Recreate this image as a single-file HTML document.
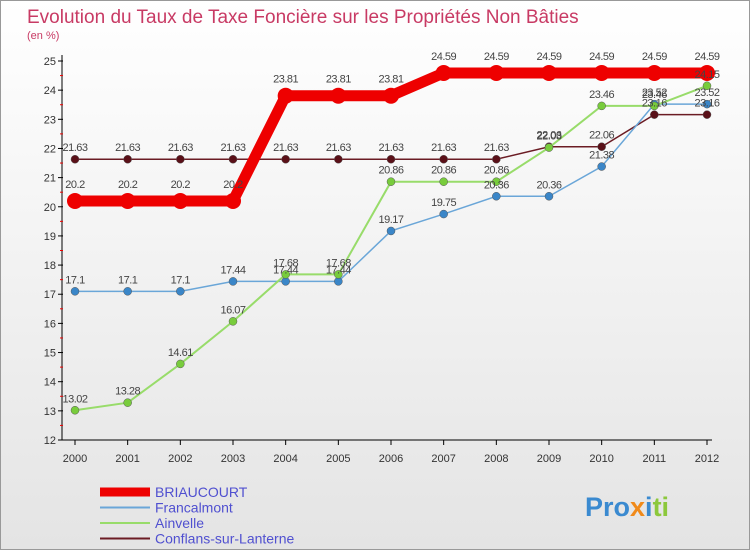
<!DOCTYPE html>
<html><head><meta charset="utf-8"><style>
body{margin:0;width:750px;height:550px;overflow:hidden;font-family:"Liberation Sans",sans-serif}
</style></head><body>
<svg width="750" height="550" xmlns="http://www.w3.org/2000/svg">
<defs><linearGradient id="bg" x1="0" y1="0" x2="0" y2="1"><stop offset="0" stop-color="#ffffff"/><stop offset="1" stop-color="#e4e4e4"/></linearGradient></defs>
<rect x="0.5" y="0.5" width="749" height="549" fill="url(#bg)" stroke="#999"/>
<text x="27" y="23" font-size="19" fill="#c83a64" font-weight="300">Evolution du Taux de Taxe Foncière sur les Propriétés Non Bâties</text>
<text x="27" y="39" font-size="11" fill="#c83a64">(en %)</text>
<g id="axes"></g><g id="series"></g><g id="labels"></g>
<g id="legend"></g>
<text x="585" y="516" font-size="27" font-weight="bold"><tspan fill="#3a8ad0">Pro</tspan><tspan fill="#f08a1a">x</tspan><tspan fill="#3a8ad0">i</tspan><tspan fill="#8cc83c">ti</tspan></text>
</svg>
<script>
const years=[2000,2001,2002,2003,2004,2005,2006,2007,2008,2009,2010,2011,2012];
const yTicks=[12,13,14,15,16,17,18,19,20,21,22,23,24,25];
const briaucourt=[20.2,20.2,20.2,20.2,23.81,23.81,23.81,24.59,24.59,24.59,24.59,24.59,24.59];
const francalmont=[17.1,17.1,17.1,17.44,17.44,17.44,19.17,19.75,20.36,20.36,21.38,23.52,23.52];
const ainvelle=[13.02,13.28,14.61,16.07,17.68,17.68,20.86,20.86,20.86,22.03,23.46,23.46,24.15];
const conflans=[21.63,21.63,21.63,21.63,21.63,21.63,21.63,21.63,21.63,22.06,22.06,23.16,23.16];
const names=["BRIAUCOURT","Francalmont","Ainvelle","Conflans-sur-Lanterne"];
const NS="http://www.w3.org/2000/svg";
const X=i=>75+i*(707-75)/(years.length-1);
const Y=v=>440-(v-12)*(440-61)/13;
function mk(t,a,p){const e=document.createElementNS(NS,t);for(const k in a)e.setAttribute(k,a[k]);p.appendChild(e);return e;}
const ax=document.getElementById('axes');
let l=mk('line',{x1:62,y1:55,x2:62,y2:440,stroke:'#000'},ax);


l=mk('line',{x1:62,y1:440,x2:712,y2:440,stroke:'#000'},ax);


yTicks.forEach(v=>{mk('line',{x1:58,y1:Y(v),x2:63,y2:Y(v),stroke:'#000'},ax);
 if(v<25)mk('line',{x1:60,y1:Y(v+0.5),x2:63,y2:Y(v+0.5),stroke:'#e00'},ax);
 const t=mk('text',{x:56,y:Y(v)+4,'font-size':11,fill:'#333','text-anchor':'end'},ax);t.textContent=v;
 
 });
years.forEach((yr,i)=>{mk('line',{x1:X(i),y1:440,x2:X(i),y2:445,stroke:'#000'},ax);
 const t=mk('text',{x:X(i),y:462,'font-size':11,fill:'#333','text-anchor':'middle'},ax);t.textContent=yr;
 
 });
const sg=document.getElementById('series'),lg=document.getElementById('labels');
const defs=[[conflans,'#6b1c24',1.5,4],[francalmont,'#6aa6d8',1.5,4],[ainvelle,'#98dc6a',2,4],[briaucourt,'#ee0000',11,8]];
const dotCol={'#6b1c24':'#5a1018','#6aa6d8':'#3a86c8','#98dc6a':'#78cc3c','#ee0000':'#ee0000'};
const sn=['conflans','francalmont','ainvelle','briaucourt'];
defs.forEach(([d,c,w,r],k)=>{
 const p=mk('polyline',{points:d.map((v,i)=>X(i)+','+Y(v)).join(' '),fill:'none',stroke:c,'stroke-width':w},sg);
 
 
 d.forEach((v,i)=>{const ci=mk('circle',{cx:X(i),cy:Y(v),r:r,fill:dotCol[c],stroke:r<5?'#555':'none','stroke-width':0.5},sg);
  
  
  const t=mk('text',{x:X(i),y:Y(v)-(r<5?8:13),'font-size':11,fill:'#444','text-anchor':'middle','letter-spacing':'-0.5'},lg);
  t.textContent=v;
  
  });
});
const lgd=document.getElementById('legend');
const lc=['#ee0000','#6aa6d8','#98dc6a','#6b1c24'],lw=[9,2,2,2];
names.forEach((n,i)=>{const y=492+i*15.5;
 const ln=mk('line',{x1:100,y1:y,x2:150,y2:y,stroke:lc[i],'stroke-width':lw[i]},lgd);
 
 
 const t=mk('text',{x:155,y:y+5,'font-size':14,fill:'#5050d0'},lgd);t.textContent=n;
 
 });
</script>
</body></html>
